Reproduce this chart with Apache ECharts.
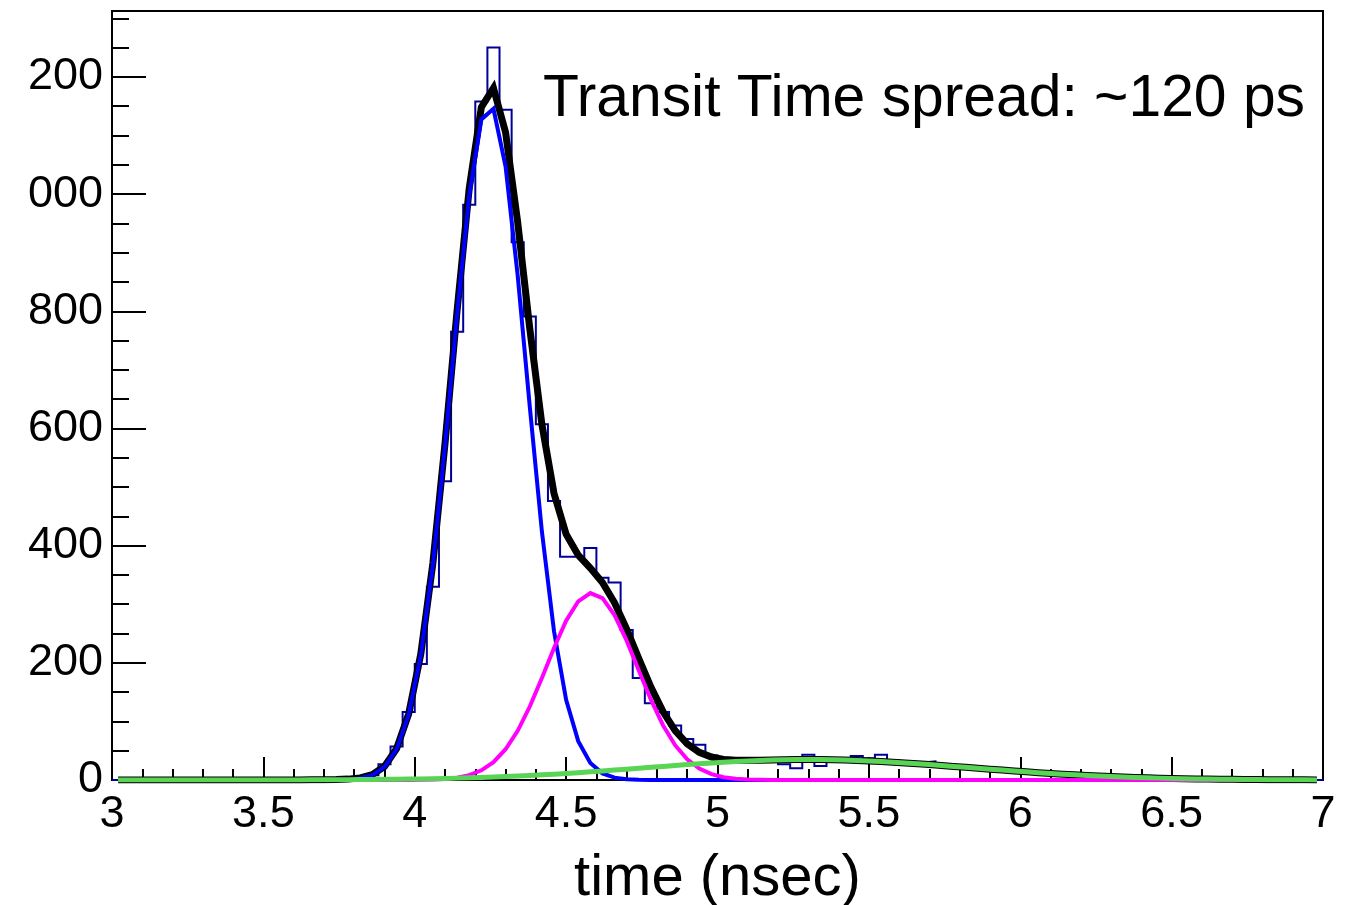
<!DOCTYPE html>
<html>
<head>
<meta charset="utf-8">
<script src="https://cdn.jsdelivr.net/npm/echarts@6/dist/echarts.min.js"></script>
<style>
html,body{margin:0;padding:0;background:#fff;}
#chart{width:1345px;height:905px;}
</style>
</head>
<body>
<div id="chart"></div>
<script>
// Histogram binning (time in nsec)
const xMin = 3, xMax = 7, binWidth = 0.04;
// Bin contents, 100 bins of 0.04 ns from 3 to 7
const counts = [
  0,0,0,0,0,0,0,0,0,0,
  0,0,0,0,0,0,0,0,0,0,
  2,8,27,57,116,198,330,510,765,982,
  1158,1250,1144,918,791,607,476,381,381,396,
  345,337,256,174,131,116,93,70,60,42,
  38,36,35,37,33,27,20,43,24,35,
  33,41,37,43,33,31,30,32,25,24,
  22,20,17,18,15,15,12,11,10,9,
  7,7,6,5,4,4,3,3,2,2,
  2,1,1,1,1,0,1,0,0,0
];
// Fit components sampled at the bin centres
const blueFit = [
  0,0,0,0,0,0,0,0,0,0,
  0,0,0,0,0,0,0,0.1,0.2,0.9,
  2.9,8.4,22.0,52.2,111.3,213.0,367.6,570.0,795.0,998.0,
  1127.5,1145.5,1047.0,861.0,637.0,424.0,253.8,136.7,66.3,28.9,
  11.3,4.0,1.3,0.4,0.1,0,0,0,0,0,
  0,0,0,0,0,0,0,0,0,0,
  0,0,0,0,0,0,0,0,0,0,
  0,0,0,0,0,0,0,0,0,0,
  0,0,0,0,0,0,0,0,0,0,
  0,0,0,0,0,0,0,0,0,0
];
const magentaFit = [
  0,0,0,0,0,0,0,0,0,0,
  0,0,0,0,0,0,0,0,0,0,
  0,0,0,0,0.1,0.3,0.7,1.7,3.9,8.3,
  16.5,30.5,52.5,84.0,125.4,174.2,225.4,271.7,305.0,319.0,
  310.4,281.5,237.8,187.0,137.0,93.5,59.4,35.2,19.4,10.0,
  4.8,2.1,0.9,0.3,0.1,0,0,0,0,0,
  0,0,0,0,0,0,0,0,0,0,
  0,0,0,0,0,0,0,0,0,0,
  0,0,0,0,0,0,0,0,0,0,
  0,0,0,0,0,0,0,0,0,0
];
const greenFit = [
  0,0,0,0,0,0,0,0,0,0,
  0.1,0.1,0.1,0.1,0.2,0.2,0.3,0.4,0.5,0.6,
  0.7,0.9,1.1,1.3,1.6,1.9,2.3,2.7,3.2,3.8,
  4.4,5.1,5.9,6.8,7.8,8.8,10.0,11.2,12.5,13.9,
  15.4,16.9,18.4,20.0,21.6,23.2,24.8,26.3,27.8,29.2,
  30.4,31.6,32.6,33.4,34.1,34.6,34.9,35.0,34.9,34.6,
  34.1,33.4,32.6,31.6,30.4,29.2,27.8,26.3,24.8,23.2,
  21.6,20.0,18.4,16.9,15.4,13.9,12.5,11.2,10.0,8.8,
  7.8,6.8,5.9,5.1,4.4,3.8,3.2,2.7,2.3,1.9,
  1.6,1.3,1.1,0.9,0.7,0.6,0.5,0.4,0.3,0.2
];
const totalFit = [
  0,0,0,0,0,0,0,0,0,0,
  0.1,0.1,0.1,0.1,0.2,0.2,0.3,0.5,0.7,1.5,
  3.6,9.3,23.1,53.5,113.0,215.2,370.6,574.4,802.1,1010.1,
  1148.4,1181.1,1105.4,951.8,770.2,607.0,489.2,419.6,383.8,361.8,
  337.1,302.4,257.5,207.4,158.7,116.7,84.2,61.5,47.2,39.2,
  35.2,33.7,33.5,33.7,34.2,34.6,34.9,35.0,34.9,34.6,
  34.1,33.4,32.6,31.6,30.4,29.2,27.8,26.3,24.8,23.2,
  21.6,20.0,18.4,16.9,15.4,13.9,12.5,11.2,10.0,8.8,
  7.8,6.8,5.9,5.1,4.4,3.8,3.2,2.7,2.3,1.9,
  1.6,1.3,1.1,0.9,0.7,0.6,0.5,0.4,0.3,0.2
];
// Y tick labels as they appear (leading digit cut off at the canvas edge)
const yTickValues = [0, 200, 400, 600, 800, 1000, 1200];
const yTickLabels = ['0', '200', '400', '600', '800', '000', '200'];
const yMax = 1312.5;
const annotation = 'Transit Time spread: ~120 ps';
const xTitle = 'time (nsec)';

// Build series data
const histData = counts.map((c, i) => [xMin + i * binWidth, c]);
histData.push([xMax, counts[counts.length - 1]]);
const centre = i => xMin + (i + 0.5) * binWidth;
const toPairs = arr => arr.map((v, i) => [centre(i), v]);

const FONT = "'Liberation Sans', Arial, Helvetica, sans-serif";
const chart = echarts.init(document.getElementById('chart'), null, {renderer: 'canvas'});

const lineSeries = (name, data, color, width) => ({
  name, type: 'line', data, showSymbol: false, symbol: 'none', smooth: false,
  lineStyle: {color, width, join: 'miter'}, clip: true, silent: true, animation: false
});

chart.setOption({
  animation: false,
  backgroundColor: '#ffffff',
  title: {
    text: annotation, left: 543, top: 70, padding: 0,
    textStyle: {fontFamily: FONT, fontSize: 58.8, fontWeight: 'normal', color: '#000'}
  },
  grid: {left: 112, right: 22, top: 11, bottom: 125, show: true, borderColor: '#000', borderWidth: 2,
    containLabel: false, outerBoundsMode: 'none'},
  xAxis: {
    type: 'value', min: xMin, max: xMax, interval: 0.5,
    name: xTitle, nameLocation: 'middle', nameGap: 70,
    nameTextStyle: {fontFamily: FONT, fontSize: 58, color: '#000'},
    axisLine: {show: true, onZero: false, lineStyle: {color: '#000', width: 2}},
    axisTick: {show: true, inside: true, length: 23, lineStyle: {color: '#000', width: 2}},
    minorTick: {show: true, splitNumber: 5, length: 11, lineStyle: {color: '#000', width: 2}},
    axisLabel: {show: true, inside: false, margin: 12, fontFamily: FONT, fontSize: 45, color: '#000',
      showMinLabel: true, showMaxLabel: true},
    splitLine: {show: false}
  },
  yAxis: {
    type: 'value', min: 0, max: yMax, interval: 200,
    axisLine: {show: true, lineStyle: {color: '#000', width: 2}},
    axisTick: {show: true, inside: true, length: 34, lineStyle: {color: '#000', width: 2}},
    minorTick: {show: true, splitNumber: 4, length: 17, lineStyle: {color: '#000', width: 2}},
    axisLabel: {show: true, margin: 9, fontFamily: FONT, fontSize: 45, color: '#000',
      formatter: v => { const k = yTickValues.indexOf(v); return k >= 0 ? yTickLabels[k] : ''; }},
    splitLine: {show: false}
  },
  series: [
    Object.assign(lineSeries('histogram', histData, '#000099', 2), {step: 'end'}),
    lineSeries('total fit', toPairs(totalFit), '#000000', 7),
    lineSeries('gaussian 1', toPairs(blueFit), '#0000ff', 4),
    lineSeries('gaussian 2', toPairs(magentaFit), '#ff00ff', 4),
    lineSeries('gaussian 3', toPairs(greenFit), '#59d454', 5)
  ]
});
</script>
</body>
</html>
